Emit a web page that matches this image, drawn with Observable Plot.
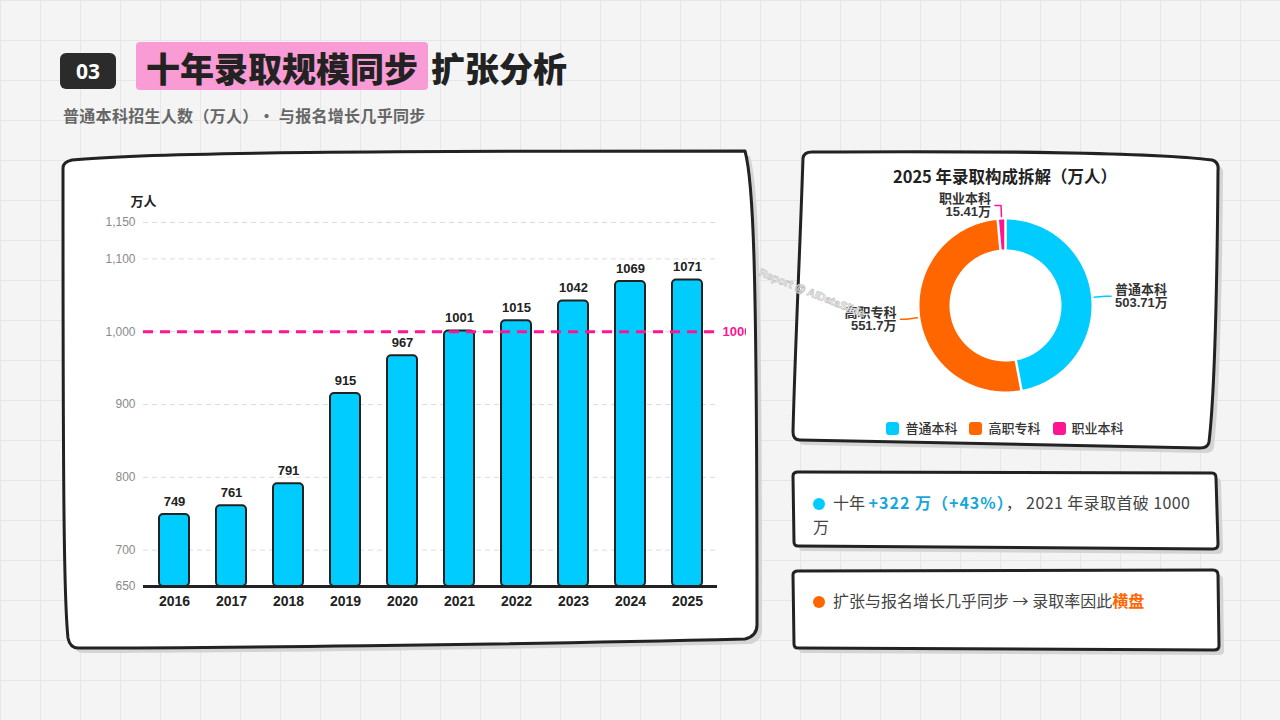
<!DOCTYPE html>
<html>
<head>
<meta charset="utf-8">
<script src="https://cdn.jsdelivr.net/npm/d3@7"></script>
<script src="https://cdn.jsdelivr.net/npm/@observablehq/plot@0.6"></script>
<style>
  html, body { margin: 0; padding: 0; }
  body {
    width: 1280px; height: 720px; position: relative; overflow: hidden;
    background-color: #f4f4f4;
    background-image: linear-gradient(#e6e6e6 1px, transparent 1px), linear-gradient(90deg, #e6e6e6 1px, transparent 1px);
    background-size: 40px 40px;
    font-family: "Noto Sans CJK SC", "Noto Sans", sans-serif;
  }
  .abs { position: absolute; }
  #badge { left: 60px; top: 53px; width: 56px; height: 36px; background: #2b2b2b; border-radius: 6px;
    color: #fff; font: 700 21px/36px "Noto Sans", "Noto Sans CJK SC", sans-serif; text-align: center; }
  #hl { left: 136px; top: 42px; width: 292px; height: 48px; background: #f99bd5; border-radius: 4px; filter: blur(0.6px); }
  #title { left: 146px; top: 46px; font-size: 34px; line-height: 44px; font-weight: 900; color: #222; white-space: nowrap; }
  #title .b { margin-left: 13px; }
  #subtitle { left: 63px; top: 104px; font-size: 16px; line-height: 22px; font-weight: 700; color: #666; white-space: nowrap; letter-spacing: 0.3px; }
  #cards { left: 0; top: 0; }
  #bar { left: 66px; top: 180px; }
  #donutTitle { left: 805px; width: 400px; top: 164px; text-align: center; font-size: 16.5px; line-height: 24px; font-weight: 700; color: #222; }
  #donut { left: 805px; top: 185px; }
  #legend { left: 805px; width: 400px; top: 418px; display: flex; justify-content: center; gap: 0; font-size: 13px; line-height: 20px; color: #333; font-weight: 500; }
  #legend .it { display: flex; align-items: center; margin: 0 6px; }
  #legend .sw { width: 13px; height: 13px; border-radius: 3px; margin-right: 6px; }
  .note { left: 813px; width: 400px; font-size: 16px; line-height: 24px; color: #444; }
  .note b { letter-spacing: 1px; }
  .note .s { letter-spacing: 0.4px; }
  .dot { display: inline-block; width: 12px; height: 12px; border-radius: 50%; margin-right: 8px; vertical-align: -0.5px; }
  #wm { left: 762px; top: 266px; transform: rotate(22deg); transform-origin: left top; font: 700 11px "Liberation Sans", sans-serif; color: #f2f2f2; -webkit-text-stroke: 0.6px #bdbdbd; white-space: nowrap; }
</style>
</head>
<body>
<svg id="cards" class="abs" width="1280" height="720">
  <g fill="#d4d4d4" transform="translate(5,5)">
    <path d="M 63 168 Q 63 162 72 160 C 150 152, 400 151, 745 151 C 753 180, 757 250, 757 625 Q 757 636 745 639 C 500 645, 200 648, 78 648 Q 70 648 68 638 C 64 600, 63 500, 63 168 Z"/>
    <path d="M 803 158 Q 804 152 812 152 C 1000 151, 1150 152, 1212 160 Q 1219 162 1218 170 C 1217 300, 1214 400, 1209 442 Q 1208 448 1200 448 L 800 440 Q 793 440 793 432 C 795 350, 800 250, 803 158 Z"/>
    <path d="M 793 476 Q 793 472 798 472 L 1212 473 Q 1216 473 1216 478 L 1218 544 Q 1218 549 1213 549 L 798 546 Q 794 546 794 542 Z"/>
    <path d="M 793 575 Q 793 571 798 571 L 1213 570 Q 1218 570 1218 575 L 1219 646 Q 1219 650 1214 650 L 798 648 Q 794 648 794 644 Z"/>
  </g>
  <g fill="#fff" stroke="#222" stroke-width="3" stroke-linejoin="round">
    <path d="M 63 168 Q 63 162 72 160 C 150 152, 400 151, 745 151 C 753 180, 757 250, 757 625 Q 757 636 745 639 C 500 645, 200 648, 78 648 Q 70 648 68 638 C 64 600, 63 500, 63 168 Z"/>
    <path d="M 803 158 Q 804 152 812 152 C 1000 151, 1150 152, 1212 160 Q 1219 162 1218 170 C 1217 300, 1214 400, 1209 442 Q 1208 448 1200 448 L 800 440 Q 793 440 793 432 C 795 350, 800 250, 803 158 Z"/>
    <path d="M 793 476 Q 793 472 798 472 L 1212 473 Q 1216 473 1216 478 L 1218 544 Q 1218 549 1213 549 L 798 546 Q 794 546 794 542 Z"/>
    <path d="M 793 575 Q 793 571 798 571 L 1213 570 Q 1218 570 1218 575 L 1219 646 Q 1219 650 1214 650 L 798 648 Q 794 648 794 644 Z"/>
  </g>
</svg>

<div id="badge" class="abs">03</div>
<div id="hl" class="abs"></div>
<div id="title" class="abs"><span>十年录取规模同步</span><span class="b">扩张分析</span></div>
<div id="subtitle" class="abs">普通本科招生人数（万人）• 与报名增长几乎同步</div>

<div id="bar" class="abs"></div>
<div id="donutTitle" class="abs">2025 年录取构成拆解（万人）</div>
<div id="donut" class="abs"></div>
<div id="legend" class="abs"></div>

<div class="abs note" style="top:490px;"><span class="dot" style="background:#00ccff"></span>十年 <b style="color:#17a6dc">+322 万（+43%）</b><span class="s">， 2021 年录取首破 1000</span><br>万</div>
<div class="abs note" style="top:588px;"><span class="dot" style="background:#ff6600"></span>扩张与报名增长几乎同步 → 录取率因此<b style="color:#ff6600;letter-spacing:0">横盘</b></div>

<div id="wm" class="abs">Report @ AIDataSlide</div>

<script>
// ---- data ----
const years = ["2016", "2017", "2018", "2019", "2020", "2021", "2022", "2023", "2024", "2025"];
const admissions = [749, 761, 791, 915, 967, 1001, 1015, 1042, 1069, 1071];
const yTicks = [650, 700, 800, 900, 1000, 1100, 1150];
const yDomain = [650, 1150];
const threshold = 1000;
const yUnit = "万人";

const segNames = ["普通本科", "高职专科", "职业本科"];
const segValues = [503.71, 551.7, 15.41];
const segLabels = ["503.71万", "551.7万", "15.41万"];
const segColors = ["#00ccff", "#ff6600", "#ff1493"];

// ---- bar chart ----
const barData = years.map((y, i) => ({year: y, value: admissions[i]}));
const font = "'Liberation Sans','Noto Sans CJK SC',sans-serif";
const comma = d3.format(",");

const bar = Plot.plot({
  width: 680, height: 440,
  marginLeft: 77, marginRight: 29, marginTop: 42, marginBottom: 34,
  style: {fontFamily: font, background: "transparent", overflow: "hidden"},
  x: {domain: years, paddingInner: 0.48, paddingOuter: 0.24, label: null},
  y: {domain: yDomain, label: null},
  marks: [
    Plot.gridY(yTicks, {stroke: "#dcdcdc", strokeOpacity: 1, strokeDasharray: "5,4"}),
    Plot.barY(barData, {x: "year", y1: yDomain[0], y2: "value", fill: "#00ccff", stroke: "#222", strokeWidth: 2, rx: 4}),
    Plot.ruleY([threshold], {stroke: "#ff1493", strokeWidth: 3, strokeDasharray: "10,7"}),
    Plot.ruleY([yDomain[0]], {stroke: "#222", strokeWidth: 3}),
    Plot.text(barData, {x: "year", y: "value", text: d => String(d.value), dy: -13, fontWeight: "bold", fontSize: 13, fill: "#222"}),
    Plot.text([threshold], {y: d => d, frameAnchor: "right", textAnchor: "start", dx: 5, text: d => String(d), fill: "#ff1493", fontWeight: "bold", fontSize: 13}),
    Plot.text([yUnit], {frameAnchor: "top-left", lineAnchor: "middle", text: d => d, dy: -21, textAnchor: "middle", fontWeight: "bold", fontSize: 13, fill: "#222"}),
    Plot.axisX({tickSize: 0, tickPadding: 10, fontSize: 14, fontWeight: "bold", fill: "#222", label: null}),
    Plot.axisY({ticks: yTicks, tickFormat: comma, tickSize: 0, tickPadding: 8, fontSize: 12, fill: "#8a8a8a", label: null})
  ]
});
document.getElementById("bar").appendChild(bar);

// ---- donut ----
const R = 86, r0 = 56, gap = 2.5;
const segs = segNames.map((n, i) => ({name: n, v: segValues[i], label: segLabels[i]}));
const arcs = d3.pie().sort(null).value(d => d.v).startAngle(0).endAngle(2 * Math.PI)(segs);
const polar = (rad, a) => [rad * Math.sin(a), -rad * Math.cos(a)];

function ring(a) {
  const ao0 = a.startAngle + gap / 2 / R, ao1 = a.endAngle - gap / 2 / R;
  const ai0 = a.startAngle + gap / 2 / r0, ai1 = a.endAngle - gap / 2 / r0;
  const pts = [];
  const n1 = Math.max(4, Math.ceil((ao1 - ao0) * 60));
  for (let k = 0; k <= n1; k++) pts.push(polar(R, ao0 + (ao1 - ao0) * k / n1));
  const n2 = Math.max(4, Math.ceil((ai1 - ai0) * 60));
  for (let k = 0; k <= n2; k++) pts.push(polar(r0, ai1 - (ai1 - ai0) * k / n2));
  pts.push(pts[0]);
  return pts;
}
const features = arcs.map(a => ({
  type: "Feature",
  properties: {name: a.data.name},
  geometry: {type: "Polygon", coordinates: [ring(a)]}
}));

const leaderPts = [];
const labels = [];
arcs.forEach(a => {
  const mid = (a.startAngle + a.endAngle) / 2;
  const side = Math.sin(mid) >= 0 ? 1 : -1;
  const p1 = polar(R + 3, mid), p2 = polar(R + 14, mid);
  const p3 = [p2[0] + side * 6, p2[1]];
  [p1, p2, p3].forEach(p => leaderPts.push({name: a.data.name, x: p[0], y: p[1]}));
  labels.push({x: p3[0] + side * 4, y: p3[1], side, text: a.data.name + "\n" + a.data.label});
});

const labelStyle = {x: "x", y: "y", text: "text", lineAnchor: "middle", lineHeight: 1, fontSize: 13, fontWeight: 600, fill: "#333"};
const donut = Plot.plot({
  width: 400, height: 240, margin: 0,
  style: {fontFamily: font, background: "transparent", overflow: "visible"},
  projection: {type: "identity", domain: {type: "MultiPoint", coordinates: [[-200, -120], [200, 120]]}},
  color: {domain: segNames, range: segColors},
  marks: [
    Plot.geo(features, {fill: d => d.properties.name}),
    Plot.line(leaderPts, {x: "x", y: "y", z: "name", stroke: "name", strokeWidth: 1.5}),
    Plot.text(labels.filter(d => d.side > 0), {...labelStyle, textAnchor: "start"}),
    Plot.text(labels.filter(d => d.side < 0), {...labelStyle, textAnchor: "end"})
  ]
});
document.getElementById("donut").appendChild(donut);

// legend (HTML, from the same arrays)
const leg = document.getElementById("legend");
segNames.forEach((n, i) => {
  const it = document.createElement("div");
  it.className = "it";
  it.innerHTML = `<span class="sw" style="background:${segColors[i]}"></span><span>${n}</span>`;
  leg.appendChild(it);
});
</script>
</body>
</html>
